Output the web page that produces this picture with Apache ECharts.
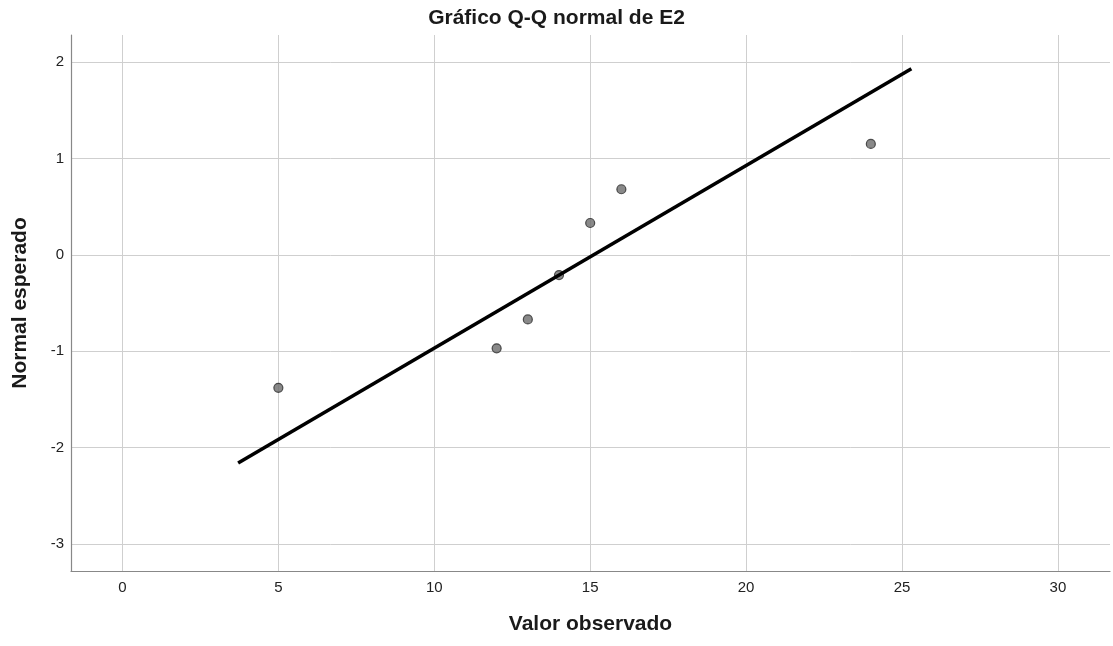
<!DOCTYPE html>
<html>
<head>
<meta charset="utf-8">
<script src="https://cdn.jsdelivr.net/npm/echarts@6/dist/echarts.min.js"></script>
<style>
html,body{margin:0;padding:0;background:#fff;}
#chart{width:1113px;height:646px;}
</style>
</head>
<body>
<div id="chart"></div>
<script>
const observed = [5, 12, 13, 14, 15, 16, 24];
const expected = [-1.38, -0.97, -0.67, -0.21, 0.33, 0.68, 1.15];
// extremos de la recta de referencia
const lineX = [3.71, 25.3];
const lineY = [-2.16, 1.93];

const xMin = -1.65, xMax = 31.67;
const yMin = -3.28, yMax = 2.28;

const chart = echarts.init(document.getElementById('chart'));
const font = '"Liberation Sans", Arial, sans-serif';

const points = observed.map((v, i) => [v, expected[i]]);
const line = lineX.map((v, i) => [v, lineY[i]]);

const option = {
    backgroundColor: '#fff',
    animation: false,
    title: {
        text: 'Gráfico Q-Q normal de E2',
        left: 'center',
        top: 3,
        textStyle: {fontFamily: font, fontSize: 21, fontWeight: 'bold', color: '#1a1a1a'}
    },
    grid: {left: 71, right: 3, top: 35, bottom: 75, containLabel: false},
    xAxis: {
        type: 'value',
        min: xMin,
        max: xMax,
        splitNumber: 7,
        name: 'Valor observado',
        nameLocation: 'middle',
        nameGap: 43,
        nameTextStyle: {fontFamily: font, fontSize: 21, fontWeight: 'bold', color: '#1a1a1a'},
        axisLine: {show: true, onZero: false, lineStyle: {color: '#888', width: 1.2}},
        axisTick: {show: false},
        axisLabel: {
            fontFamily: font, fontSize: 15, color: '#222', margin: 9,
            formatter: v => (Math.abs(v % 5) < 1e-9 ? String(v) : '')
        },
        splitLine: {show: true, showMinLine: false, showMaxLine: false, lineStyle: {color: '#cfcfcf', width: 1}}
    },
    yAxis: {
        type: 'value',
        min: yMin,
        max: yMax,
        splitNumber: 6,
        name: 'Normal esperado',
        nameLocation: 'middle',
        nameGap: 40,
        nameTextStyle: {fontFamily: font, fontSize: 21, fontWeight: 'bold', color: '#1a1a1a'},
        axisLine: {show: true, onZero: false, lineStyle: {color: '#888', width: 1.2}},
        axisTick: {show: false},
        axisLabel: {
            fontFamily: font, fontSize: 15, color: '#222', margin: 7,
            formatter: v => (Number.isInteger(v) ? String(v) : '')
        },
        splitLine: {show: true, showMinLine: false, showMaxLine: false, lineStyle: {color: '#cfcfcf', width: 1}}
    },
    series: [
        {
            type: 'line',
            data: line,
            symbol: 'none',
            lineStyle: {color: '#000', width: 3.6},
            z: 3
        },
        {
            type: 'scatter',
            data: points,
            symbolSize: 9,
            itemStyle: {color: '#6b6b6b', borderColor: '#2a2a2a', borderWidth: 1.2},
            z: 2
        }
    ]
};
chart.setOption(option);
</script>
</body>
</html>
